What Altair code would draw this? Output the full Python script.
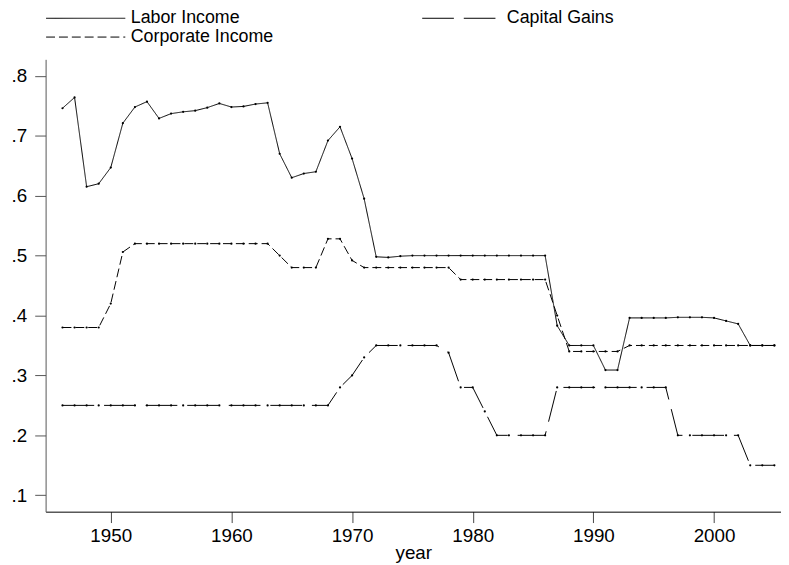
import altair as alt
import pandas as pd

years = list(range(1946, 2006))

labor = [0.746, 0.764, 0.615, 0.620, 0.647, 0.721, 0.748, 0.757, 0.729, 0.737,
         0.740, 0.742, 0.747, 0.754, 0.748, 0.749, 0.753, 0.755, 0.670, 0.630,
         0.637, 0.640, 0.692, 0.715, 0.662, 0.595, 0.498, 0.497, 0.499, 0.500,
         0.500, 0.500, 0.500, 0.500, 0.500, 0.500, 0.500, 0.500, 0.500, 0.500,
         0.500, 0.383, 0.350, 0.350, 0.350, 0.309, 0.309, 0.396, 0.396, 0.396,
         0.396, 0.397, 0.397, 0.397, 0.396, 0.391, 0.386, 0.350, 0.350, 0.350]

corporate = [0.38, 0.38, 0.38, 0.38, 0.42, 0.506, 0.52, 0.52, 0.52, 0.52,
             0.52, 0.52, 0.52, 0.52, 0.52, 0.52, 0.52, 0.52, 0.50, 0.48,
             0.48, 0.48, 0.528, 0.528, 0.492, 0.48, 0.48, 0.48, 0.48, 0.48,
             0.48, 0.48, 0.48, 0.46, 0.46, 0.46, 0.46, 0.46, 0.46, 0.46,
             0.46, 0.40, 0.34, 0.34, 0.34, 0.34, 0.34, 0.35, 0.35, 0.35,
             0.35, 0.35, 0.35, 0.35, 0.35, 0.35, 0.35, 0.35, 0.35, 0.35]

capital = [0.25, 0.25, 0.25, 0.25, 0.25, 0.25, 0.25, 0.25, 0.25, 0.25,
           0.25, 0.25, 0.25, 0.25, 0.25, 0.25, 0.25, 0.25, 0.25, 0.25,
           0.25, 0.25, 0.25, 0.28, 0.30, 0.33, 0.35, 0.35, 0.35, 0.35,
           0.35, 0.35, 0.338, 0.28, 0.28, 0.24, 0.20, 0.20, 0.20, 0.20,
           0.20, 0.28, 0.28, 0.28, 0.28, 0.28, 0.28, 0.28, 0.28, 0.28,
           0.28, 0.20, 0.20, 0.20, 0.20, 0.20, 0.20, 0.15, 0.15, 0.15]

# legend fills column-major: Labor / Corporate in column 1, Capital Gains in column 2
series_names = ["Labor Income", "Corporate Income", "Capital Gains"]
series_values = [labor, corporate, capital]
dash_patterns = [[1, 0], [9, 4], [32, 10]]

x_ticks = [1950, 1960, 1970, 1980, 1990, 2000]
y_ticks = [0.1, 0.2, 0.3, 0.4, 0.5, 0.6, 0.7, 0.8]

rows = []
for name, vals in zip(series_names, series_values):
    for yr, v in zip(years, vals):
        rows.append({"year": yr, "rate": v, "series": name})
df = pd.DataFrame(rows)

FONT = "Liberation Sans"
FS = 19
LEG_FS = 18

x_enc = alt.X(
    "year:Q",
    scale=alt.Scale(domain=[1944.6, 2005.55], nice=False, zero=False),
    axis=alt.Axis(values=x_ticks, format="d", title="year", grid=False,
                  domainColor="black", domainWidth=1, tickColor="#444",
                  tickSize=11, labelPadding=4, titlePadding=-2),
)
y_enc = alt.Y(
    "rate:Q",
    scale=alt.Scale(domain=[0.0726, 0.8276], nice=False, zero=False),
    axis=alt.Axis(values=y_ticks, title=None, grid=False,
                  labelExpr="substring(format(datum.value, '.1f'), 1)",
                  domainColor="#555", domainWidth=1, tickColor="#555",
                  tickSize=11, labelPadding=8),
)

lines = alt.Chart(df).mark_line(color="black", strokeWidth=1).encode(
    x=x_enc,
    y=y_enc,
    strokeDash=alt.StrokeDash(
        "series:N",
        scale=alt.Scale(domain=series_names, range=dash_patterns),
        legend=alt.Legend(
            title=None, orient="none", legendX=0, legendY=-51,
            columns=2, columnPadding=149, rowPadding=0,
            symbolType="stroke", symbolSize=6400, symbolStrokeWidth=1,
            symbolStrokeColor="black", labelFontSize=LEG_FS, labelFont=FONT,
            labelColor="black", labelOffset=5, clipHeight=19, padding=0,
            labelLimit=300,
        ),
    ),
)

points = alt.Chart(df).mark_circle(color="black", size=5, opacity=1).encode(
    x=x_enc, y=y_enc, detail="series:N"
)

chart = (
    alt.layer(lines, points)
    .properties(
        width=743, height=457, autosize="none",
        padding={"left": 38, "top": 49, "right": 0, "bottom": 50},
    )
    .configure_view(stroke=None)
    .configure_axis(labelFont=FONT, labelFontSize=FS, labelColor="black",
                    titleFont=FONT, titleFontSize=FS, titleColor="black",
                    titleFontWeight="normal")
)

chart.save("out.html", embed_options={"renderer": "svg", "actions": False})
